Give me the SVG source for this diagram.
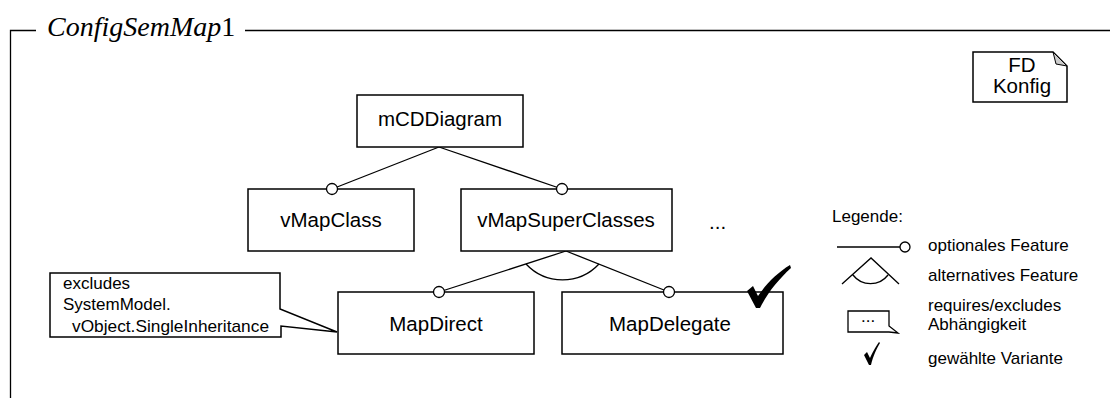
<svg xmlns="http://www.w3.org/2000/svg" width="1110" height="398" viewBox="0 0 1110 398">
<style>
.box{fill:#fff;stroke:#000;stroke-width:1.5}
.ln{fill:none;stroke:#000;stroke-width:1.3}
.opt{fill:#fff;stroke:#000;stroke-width:1.3}
.t{font-family:"Liberation Sans",Arial,sans-serif;font-size:20.5px;fill:#000}
.s{font-family:"Liberation Sans",Arial,sans-serif;font-size:17px;fill:#000}
</style>
<rect width="1110" height="398" fill="#fff"/>
<g id="frame">
<path class="ln" d="M10.5,398 V30.5 H36 M245,30.5 H1110"/>
<text x="47" y="36" font-family="'Liberation Serif','Times New Roman',serif" font-size="28"><tspan font-style="italic">ConfigSemMap</tspan>1</text>
</g>
<g id="connectors">
<line class="ln" x1="439" y1="147" x2="332" y2="189"/>
<line class="ln" x1="439" y1="147" x2="562" y2="189"/>
<line class="ln" x1="566" y1="251" x2="439" y2="292"/>
<line class="ln" x1="566" y1="251" x2="669" y2="292"/>
<path class="ln" d="M526,264 A50,50 0 0 0 599,264"/>
</g>
<g id="mCDDiagram"><rect class="box" x="357" y="95" width="166" height="52"/><text class="t" x="440" y="126" text-anchor="middle">mCDDiagram</text></g>
<g id="vMapClass"><rect class="box" x="248" y="189" width="166" height="62"/><text class="t" x="331" y="227" text-anchor="middle">vMapClass</text><circle class="opt" cx="332" cy="189" r="5.5"/></g>
<g id="vMapSuperClasses"><rect class="box" x="461" y="189" width="211" height="62"/><text class="t" x="566" y="227" text-anchor="middle">vMapSuperClasses</text><circle class="opt" cx="562" cy="189" r="5.5"/></g>
<g id="more"><text class="t" x="709" y="229">...</text></g>
<g id="MapDirect"><rect class="box" x="338" y="292" width="196" height="62"/><text class="t" x="436" y="331" text-anchor="middle">MapDirect</text><circle class="opt" cx="439" cy="292" r="5.5"/></g>
<g id="MapDelegate"><rect class="box" x="562" y="292" width="221" height="62"/><text class="t" x="670" y="331" text-anchor="middle">MapDelegate</text><circle class="opt" cx="669" cy="292" r="5.5"/>
<path d="M747,291 L753,286 L758,296 C766,284 777,273 790,265 L791,268 C779,279 768,292 760,308 L756,308 Z" fill="#000"/></g>
<g id="note">
<path class="box" d="M50,273 H280 V309 L337,332 L281,326 V337 H50 Z"/>
<text class="s" x="63" y="289">excludes</text>
<text class="s" x="63" y="310">SystemModel.</text>
<text class="s" x="72" y="332" textLength="197" lengthAdjust="spacingAndGlyphs">vObject.SingleInheritance</text>
</g>
<g id="fdKonfig">
<path class="box" d="M973,52 H1053 L1067,66 V102 H973 Z"/>
<path d="M1053,52 L1067,66 L1056,64 Z" fill="#ccc" stroke="#000" stroke-width="1"/>
<text class="t" x="1022" y="72" text-anchor="middle" font-size="17.5">FD</text>
<text class="t" x="1022" y="93" text-anchor="middle" font-size="17.5">Konfig</text>
</g>
<g id="legend">
<text class="s" x="832" y="222">Legende:</text>
<line class="ln" x1="837" y1="247" x2="900" y2="247"/>
<circle class="opt" cx="905" cy="247" r="5"/>
<text class="s" x="928" y="251">optionales Feature</text>
<path class="ln" d="M842,284 L871,258 L899,284 M853,275 A22,22 0 0 0 888,275"/>
<text class="s" x="928" y="281">alternatives Feature</text>
<path class="box" style="stroke-width:1.3" d="M848,311 H889 V326 L898,333 L889,332 H848 Z"/>
<text class="s" x="861" y="322" font-size="11">...</text>
<text class="s" x="928" y="311">requires/excludes</text>
<text class="s" x="928" y="330">Abhängigkeit</text>
<path d="M864,355 L867,352 L870,358 C873,351 877,345 879,342 L880,343 C877,348 873,356 871,365 L869,365 Z" fill="#000"/>
<text class="s" x="928" y="364">gewählte Variante</text>
</g>
</svg>
